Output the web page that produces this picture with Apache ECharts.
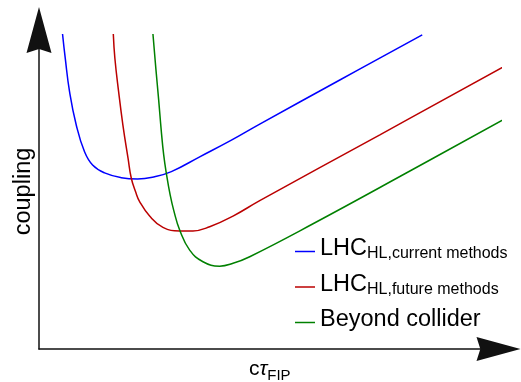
<!DOCTYPE html>
<html>
<head>
<meta charset="utf-8">
<script src="https://cdn.jsdelivr.net/npm/echarts@6/dist/echarts.min.js"></script>
<style>
  html, body { margin: 0; padding: 0; background: #ffffff; }
  #chart { width: 521px; height: 382px; }
</style>
</head>
<body>
<div id="chart"></div>
<script>
// Schematic sensitivity curves: coupling versus decay length (arbitrary units 0-100)
const currentMethods = [
  [5.10, 100.0], [5.68, 92.4], [6.62, 81.7], [8.07, 71.1], [9.87, 62.6],
  [11.61, 58.4], [14.21, 55.9], [17.83, 54.4], [21.37, 54.0], [25.05, 54.7],
  [28.68, 56.3], [34.82, 61.0], [41.69, 66.3], [47.83, 71.4], [65.18, 85.4],
  [83.04, 99.7]
];
const futureMethods = [
  [16.10, 100.0], [16.44, 92.3], [17.25, 81.7], [18.18, 71.1], [19.30, 60.5],
  [20.00, 54.2], [20.93, 49.9], [21.80, 46.8], [23.97, 42.2], [26.85, 38.6],
  [30.48, 37.5], [33.36, 37.5], [36.98, 38.8], [42.04, 42.2], [47.83, 47.1],
  [73.86, 68.0], [102.43, 91.0]
];
const beyondCollider = [
  [24.69, 100.0], [25.34, 88.7], [25.93, 79.1], [26.48, 69.5], [27.02, 61.6],
  [27.59, 55.8], [28.42, 48.9], [29.18, 44.1], [30.48, 37.8], [32.65, 31.4],
  [35.53, 27.7], [39.15, 26.3], [42.04, 27.2], [45.66, 29.3], [59.18, 39.6],
  [80.37, 56.5], [102.21, 74.1]
];

const seriesNames = ['LHC HL current methods', 'LHC HL future methods', 'Beyond collider'];
const seriesColors = ['#0000ff', '#bb0000', '#008000'];
const legendRich = {
  'LHC HL current methods': '{m|LHC}{s|HL,current methods}',
  'LHC HL future methods': '{m|LHC}{s|HL,future methods}',
  'Beyond collider': '{m|Beyond collider}'
};

const FONT = 'Liberation Sans, Arial, sans-serif';
const arrowPath = 'path://M12.5,0 L25,46 L12.5,42 L0,46 Z';

function makeSeries(name, data, color) {
  return {
    name: name,
    type: 'line',
    data: data,
    smooth: 0.45,
    symbol: 'none',
    clip: false,
    lineStyle: { color: color, width: 1.5 },
    itemStyle: { color: color },
    emphasis: { disabled: true }
  };
}

const chart = echarts.init(document.getElementById('chart'), null, { renderer: 'canvas' });
chart.setOption({
  animation: false,
  backgroundColor: '#ffffff',
  color: seriesColors,
  grid: { left: 39, right: 20.5, top: 34, bottom: 33, containLabel: false, outerBoundsMode: 'none' },
  legend: {
    data: seriesNames,
    orient: 'vertical',
    left: 295,
    top: 237,
    padding: 0,
    icon: 'rect',
    itemWidth: 20,
    itemHeight: 1.5,
    itemGap: 10.5,
    selectedMode: false,
    formatter: function (name) { return legendRich[name]; },
    textStyle: {
      fontFamily: FONT,
      color: '#000000',
      padding: [0, 0, 9, 0],
      rich: {
        m: { fontSize: 23.5, fontFamily: FONT, color: '#000', lineHeight: 28, verticalAlign: 'bottom' },
        s: { fontSize: 16, fontFamily: FONT, color: '#000', lineHeight: 16, verticalAlign: 'bottom', padding: [0, 0, -1, 0] }
      }
    }
  },
  xAxis: {
    type: 'value',
    min: 0,
    max: 100,
    name: '{c|c}{t|τ}{s|FIP}',
    nameLocation: 'middle',
    nameGap: 9,
    nameTextStyle: {
      rich: {
        c: { fontSize: 21, fontFamily: FONT, color: '#000', lineHeight: 22, verticalAlign: 'bottom' },
        t: { fontSize: 21, fontFamily: FONT, fontStyle: 'italic', color: '#000', lineHeight: 22, verticalAlign: 'bottom' },
        s: { fontSize: 15, fontFamily: FONT, color: '#000', lineHeight: 15, verticalAlign: 'bottom', padding: [0, 0, -3, 0] }
      }
    },
    axisLine: {
      show: true,
      symbol: ['none', arrowPath],
      symbolSize: [26, 44],
      symbolOffset: [0, -2],
      lineStyle: { color: '#111111', width: 1.5 }
    },
    axisTick: { show: false },
    axisLabel: { show: false },
    splitLine: { show: false }
  },
  yAxis: {
    type: 'value',
    min: 0,
    max: 100,
    name: 'coupling',
    nameLocation: 'middle',
    nameRotate: 90,
    nameGap: 3,
    nameTextStyle: { fontSize: 23.5, fontFamily: FONT, color: '#000' },
    axisLine: {
      show: true,
      symbol: ['none', arrowPath],
      symbolSize: [26, 46],
      symbolOffset: [0, 4],
      lineStyle: { color: '#111111', width: 1.5 }
    },
    axisTick: { show: false },
    axisLabel: { show: false },
    splitLine: { show: false }
  },
  series: [
    makeSeries(seriesNames[0], currentMethods, seriesColors[0]),
    makeSeries(seriesNames[1], futureMethods, seriesColors[1]),
    makeSeries(seriesNames[2], beyondCollider, seriesColors[2])
  ]
});
</script>
</body>
</html>
